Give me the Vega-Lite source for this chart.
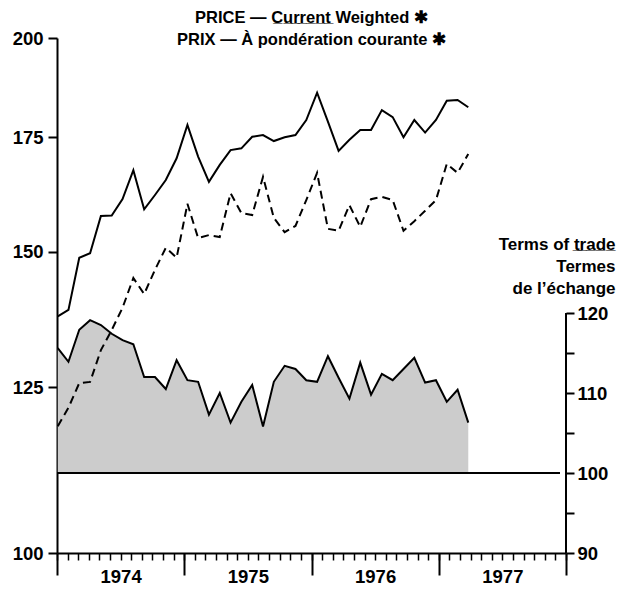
{
  "$schema": "https://vega.github.io/schema/vega-lite/v6.json",
  "width": 509,
  "height": 515,
  "autosize": "none",
  "padding": {"left": 57, "top": 38, "right": 60, "bottom": 39},
  "background": "white",
  "title": {
    "text": ["PRICE — C̲u̲r̲r̲e̲n̲t̲ Weighted ✱", "PRIX — À pondération courante ✱"],
    "font": "Liberation Sans",
    "fontSize": 16.5,
    "fontWeight": "bold",
    "color": "black",
    "lineHeight": 22,
    "anchor": "middle",
    "offset": -19
  },
  "config": {
    "view": {"stroke": null},
    "axis": {
      "grid": false,
      "domainColor": "black",
      "tickColor": "black",
      "labelColor": "black",
      "labelFont": "Liberation Sans",
      "labelFontWeight": "bold",
      "labelFontSize": 18.5,
      "domainWidth": 2,
      "tickWidth": 2
    }
  },
  "data": {
    "values": [
      {"t": 1974.006, "price_solid": 137.5, "price_dashed": 118.6, "terms_of_trade": 115.6},
      {"t": 1974.090, "price_solid": 138.7, "price_dashed": 121.6, "terms_of_trade": 113.9},
      {"t": 1974.175, "price_solid": 148.8, "price_dashed": 125.7, "terms_of_trade": 117.9},
      {"t": 1974.260, "price_solid": 149.7, "price_dashed": 125.9, "terms_of_trade": 119.1},
      {"t": 1974.345, "price_solid": 157.4, "price_dashed": 131.4, "terms_of_trade": 118.5},
      {"t": 1974.430, "price_solid": 157.5, "price_dashed": 135.0, "terms_of_trade": 117.4},
      {"t": 1974.515, "price_solid": 161.0, "price_dashed": 139.1, "terms_of_trade": 116.6},
      {"t": 1974.600, "price_solid": 167.4, "price_dashed": 144.8, "terms_of_trade": 116.1},
      {"t": 1974.685, "price_solid": 158.8, "price_dashed": 141.7, "terms_of_trade": 112.0},
      {"t": 1974.770, "price_solid": 161.9, "price_dashed": 146.4, "terms_of_trade": 112.0},
      {"t": 1974.855, "price_solid": 165.2, "price_dashed": 150.8, "terms_of_trade": 110.5},
      {"t": 1974.940, "price_solid": 170.1, "price_dashed": 148.8, "terms_of_trade": 114.1},
      {"t": 1975.025, "price_solid": 177.9, "price_dashed": 160.0, "terms_of_trade": 111.6},
      {"t": 1975.109, "price_solid": 170.5, "price_dashed": 152.8, "terms_of_trade": 111.4},
      {"t": 1975.194, "price_solid": 164.8, "price_dashed": 153.4, "terms_of_trade": 107.3},
      {"t": 1975.279, "price_solid": 168.6, "price_dashed": 153.0, "terms_of_trade": 110.0},
      {"t": 1975.364, "price_solid": 172.0, "price_dashed": 162.3, "terms_of_trade": 106.3},
      {"t": 1975.449, "price_solid": 172.4, "price_dashed": 158.0, "terms_of_trade": 108.9},
      {"t": 1975.534, "price_solid": 175.1, "price_dashed": 157.6, "terms_of_trade": 111.0},
      {"t": 1975.619, "price_solid": 175.5, "price_dashed": 165.9, "terms_of_trade": 105.8},
      {"t": 1975.704, "price_solid": 174.1, "price_dashed": 157.0, "terms_of_trade": 111.4},
      {"t": 1975.789, "price_solid": 175.0, "price_dashed": 154.0, "terms_of_trade": 113.4},
      {"t": 1975.874, "price_solid": 175.5, "price_dashed": 155.3, "terms_of_trade": 113.0},
      {"t": 1975.959, "price_solid": 179.1, "price_dashed": 160.8, "terms_of_trade": 111.6},
      {"t": 1976.044, "price_solid": 185.8, "price_dashed": 166.8, "terms_of_trade": 111.4},
      {"t": 1976.129, "price_solid": 178.7, "price_dashed": 154.7, "terms_of_trade": 114.6},
      {"t": 1976.213, "price_solid": 171.8, "price_dashed": 154.3, "terms_of_trade": 111.9},
      {"t": 1976.298, "price_solid": 174.4, "price_dashed": 159.7, "terms_of_trade": 109.3},
      {"t": 1976.383, "price_solid": 176.7, "price_dashed": 155.1, "terms_of_trade": 113.8},
      {"t": 1976.468, "price_solid": 176.7, "price_dashed": 161.0, "terms_of_trade": 109.8},
      {"t": 1976.553, "price_solid": 181.5, "price_dashed": 161.5, "terms_of_trade": 112.4},
      {"t": 1976.638, "price_solid": 179.8, "price_dashed": 160.8, "terms_of_trade": 111.6},
      {"t": 1976.723, "price_solid": 175.0, "price_dashed": 154.3, "terms_of_trade": 113.0},
      {"t": 1976.808, "price_solid": 179.1, "price_dashed": 156.3, "terms_of_trade": 114.4},
      {"t": 1976.893, "price_solid": 176.1, "price_dashed": 158.5, "terms_of_trade": 111.3},
      {"t": 1976.978, "price_solid": 179.1, "price_dashed": 160.8, "terms_of_trade": 111.6},
      {"t": 1977.063, "price_solid": 183.8, "price_dashed": 168.8, "terms_of_trade": 108.9},
      {"t": 1977.148, "price_solid": 184.0, "price_dashed": 166.8, "terms_of_trade": 110.4},
      {"t": 1977.232, "price_solid": 182.2, "price_dashed": 171.1, "terms_of_trade": 106.3}
    ]
  },
  "layer": [
    {
      "layer": [
        {
          "mark": {"type": "area", "color": "#cccccc", "opacity": 1, "line": {"color": "black", "strokeWidth": 2}},
          "encoding": {
            "x": {
              "field": "t", "type": "quantitative",
              "scale": {"domain": [1974, 1978], "nice": false, "zero": false},
              "axis": {"orient": "bottom", "values": [1974.5, 1975.5, 1976.5, 1977.5], "labelExpr": "floor(datum.value)", "ticks": false, "domain": false, "labelPadding": 14, "title": null, "labelFlush": false, "labelOverlap": false}
            },
            "y": {
              "field": "terms_of_trade", "type": "quantitative",
              "scale": {"domain": [90, 154.375], "nice": false, "zero": false},
              "axis": {
                "orient": "right",
                "values": [90, 95, 100, 105, 110, 115, 120],
                "labelExpr": "datum.value % 10 == 0 ? datum.label : ''",
                "domain": false,
                "tickSize": 8,
                "labelPadding": 3,
                "title": ["Terms of t̲r̲a̲d̲e̲", "Termes", "de l’échange"],
                "titleAngle": 0,
                "titleAlign": "right",
                "titleBaseline": "top",
                "titleX": 49,
                "titleY": 198,
                "titleFont": "Liberation Sans",
                "titleFontSize": 17,
                "titleFontWeight": "bold",
                "titleColor": "black",
                "titleLineHeight": 22
              }
            },
            "y2": {"datum": 100}
          }
        },
        {
          "mark": {"type": "rule", "color": "black", "strokeWidth": 2},
          "encoding": {
            "x": {"datum": 1974, "type": "quantitative", "axis": null},
            "x2": {"datum": 1977.95},
            "y": {"datum": 100, "type": "quantitative", "axis": null}
          }
        },
        {
          "mark": {"type": "rule", "color": "black", "strokeWidth": 2},
          "encoding": {
            "x": {"datum": 1978, "type": "quantitative", "axis": null},
            "y": {"datum": 90, "type": "quantitative", "axis": null},
            "y2": {"datum": 120}
          }
        }
      ],
      "resolve": {"axis": {"x": "independent", "y": "independent"}}
    },
    {
      "layer": [
        {
          "mark": {"type": "line", "color": "black", "strokeWidth": 2},
          "encoding": {
            "x": {
              "field": "t", "type": "quantitative",
              "axis": {
                "orient": "bottom",
                "values": [1974, 1974.0833, 1974.1667, 1974.25, 1974.3333, 1974.4167, 1974.5, 1974.5833, 1974.6667, 1974.75, 1974.8333, 1974.9167,
                           1975, 1975.0833, 1975.1667, 1975.25, 1975.3333, 1975.4167, 1975.5, 1975.5833, 1975.6667, 1975.75, 1975.8333, 1975.9167,
                           1976, 1976.0833, 1976.1667, 1976.25, 1976.3333, 1976.4167, 1976.5, 1976.5833, 1976.6667, 1976.75, 1976.8333, 1976.9167,
                           1977, 1977.0833, 1977.1667, 1977.25, 1977.3333, 1977.4167, 1977.5, 1977.5833, 1977.6667, 1977.75, 1977.8333, 1977.9167, 1978],
                "labels": false, "tickSize": 7, "tickWidth": 1.5, "title": null
              }
            },
            "y": {
              "field": "price_solid", "type": "quantitative",
              "scale": {"type": "log", "domain": [100, 200], "nice": false},
              "axis": {"orient": "left", "values": [100, 125, 150, 175, 200], "format": "d", "tickSize": 9, "labelPadding": 5, "title": null}
            }
          }
        },
        {
          "mark": {"type": "line", "color": "black", "strokeWidth": 2, "strokeDash": [8, 5]},
          "encoding": {
            "x": {
              "field": "t", "type": "quantitative",
              "axis": {"orient": "bottom", "values": [1974, 1975, 1976, 1977, 1978], "labels": false, "domain": false, "tickSize": 22, "title": null}
            },
            "y": {"field": "price_dashed", "type": "quantitative", "axis": null}
          }
        }
      ],
      "resolve": {"axis": {"x": "independent", "y": "independent"}}
    }
  ],
  "resolve": {"scale": {"y": "independent"}, "axis": {"x": "independent", "y": "independent"}}
}
